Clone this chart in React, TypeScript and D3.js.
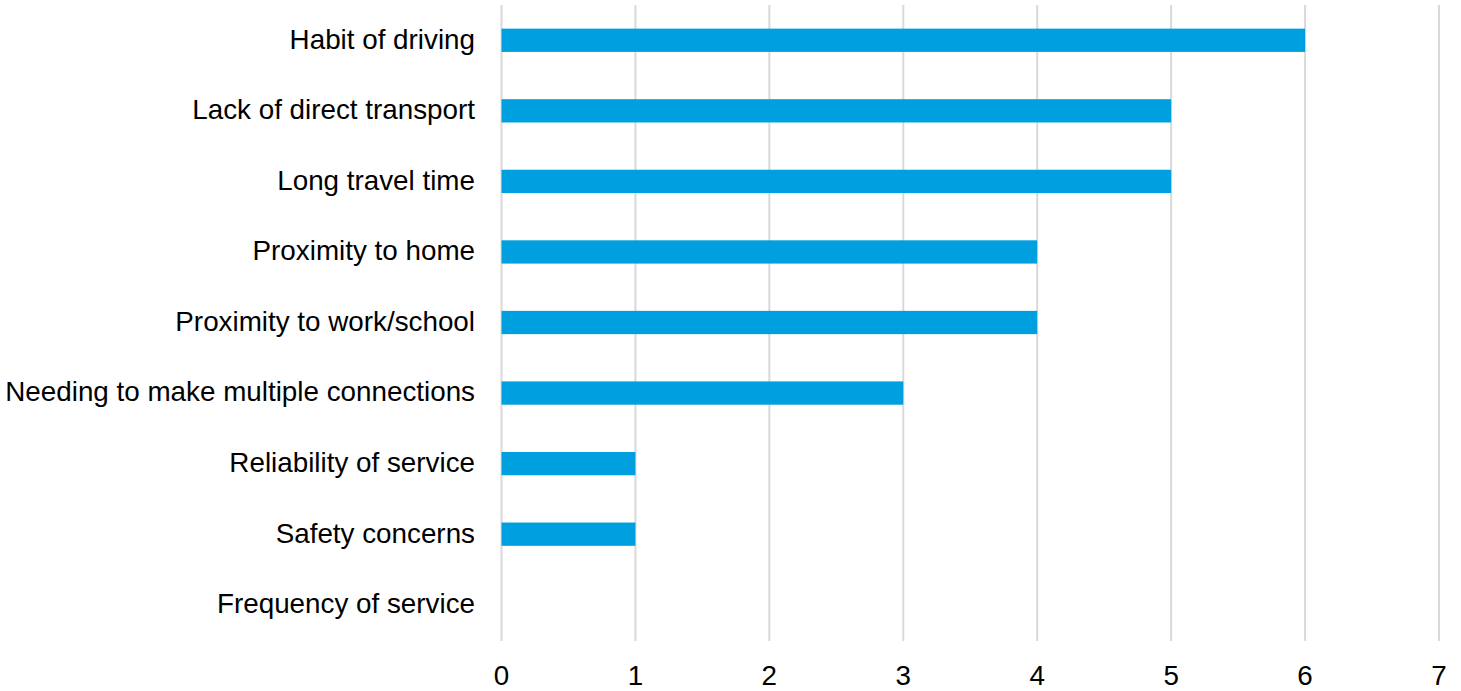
import React, { useEffect, useRef } from 'react';
import * as d3 from 'd3';

const categories = [
  'Habit of driving',
  'Lack of direct transport',
  'Long travel time',
  'Proximity to home',
  'Proximity to work/school',
  'Needing to make multiple connections',
  'Reliability of service',
  'Safety concerns',
  'Frequency of service',
];
const counts = [6, 5, 5, 4, 4, 3, 1, 1, 0];
const tickValues = [0, 1, 2, 3, 4, 5, 6, 7];

const width = 1461;
const height = 691;
const margin = { top: 5, right: 22, bottom: 50, left: 501.5 };
const font = 'Arial, "Liberation Sans", sans-serif';

export default function App() {
  const ref = useRef<SVGSVGElement>(null);

  useEffect(() => {
    const svg = d3.select(ref.current);
    svg.selectAll('*').remove();

    const x = d3
      .scaleLinear()
      .domain([0, 7])
      .range([margin.left, 1439]);

    const y = d3
      .scaleBand()
      .domain(categories)
      .range([margin.top, 640])
      .padding(0);

    const barH = y.bandwidth() * 0.33;

    // gridlines
    svg
      .append('g')
      .selectAll('line')
      .data(tickValues)
      .join('line')
      .attr('x1', (d) => x(d))
      .attr('x2', (d) => x(d))
      .attr('y1', margin.top)
      .attr('y2', 641)
      .attr('stroke', '#d9d9d9')
      .attr('stroke-width', 2);

    // bars
    svg
      .append('g')
      .selectAll('rect')
      .data(categories)
      .join('rect')
      .attr('x', x(0))
      .attr('y', (d) => (y(d) as number) + y.bandwidth() / 2 - barH / 2)
      .attr('width', (d, i) => x(counts[i]) - x(0))
      .attr('height', barH)
      .attr('fill', '#009fdf');

    // category labels
    svg
      .append('g')
      .selectAll('text')
      .data(categories)
      .join('text')
      .attr('x', 475)
      .attr('y', (d) => (y(d) as number) + y.bandwidth() / 2)
      .attr('dy', '0.3em')
      .attr('text-anchor', 'end')
      .attr('font-family', font)
      .attr('font-size', 27.8)
      .attr('fill', '#000')
      .text((d) => d);

    // x tick labels
    svg
      .append('g')
      .selectAll('text')
      .data(tickValues)
      .join('text')
      .attr('x', (d) => x(d))
      .attr('y', 675)
      .attr('dy', '0.35em')
      .attr('text-anchor', 'middle')
      .attr('font-family', font)
      .attr('font-size', 27.8)
      .attr('fill', '#000')
      .text((d) => d);
  }, []);

  return (
    <svg
      ref={ref}
      width={width}
      height={height}
      style={{ position: 'absolute', left: 0, top: 0, background: '#fff' }}
    />
  );
}
